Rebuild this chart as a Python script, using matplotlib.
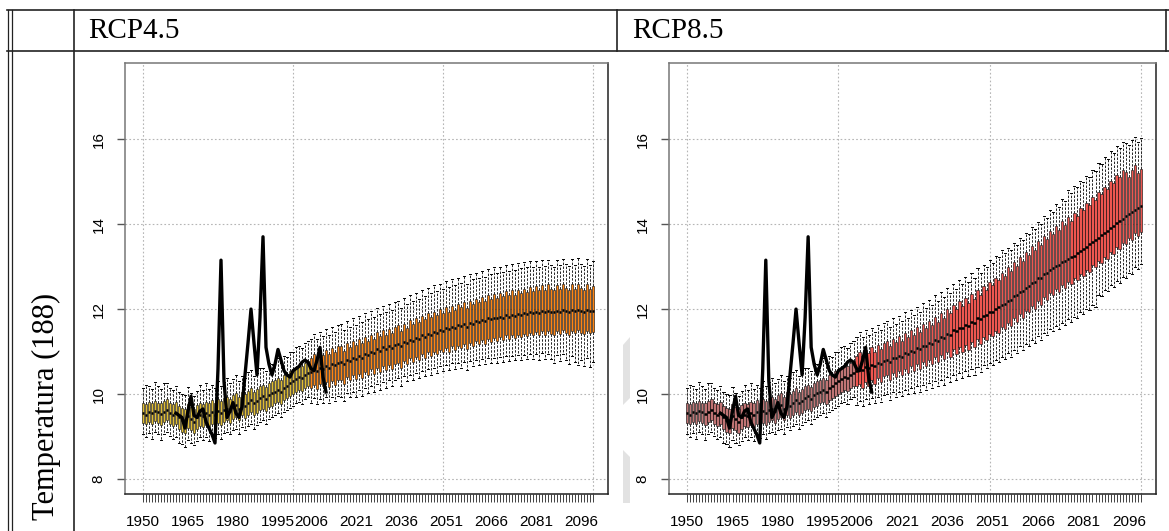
import matplotlib
matplotlib.use('Agg')
import matplotlib.pyplot as plt
from matplotlib.lines import Line2D
from matplotlib.patches import Polygon

# --- years / labels ---
years_hist = list(range(1950, 2006))
years_fut = list(range(2006, 2101))
label_years = [1950, 1965, 1980, 1995, 2006, 2021, 2036, 2051, 2066, 2081, 2096]
panel_titles = ['RCP4.5', 'RCP8.5']
row_label = 'Temperatura (188)'

# --- historical ensemble (same for both scenarios), 1950-2005 ---
hist_med = [9.55, 9.52, 9.58, 9.55, 9.60, 9.57, 9.53, 9.58, 9.62, 9.56,
            9.50, 9.55, 9.45, 9.40, 9.38, 9.48, 9.42, 9.35, 9.45, 9.52,
            9.48, 9.55, 9.50, 9.58, 9.52, 9.60, 9.55, 9.62, 9.66, 9.60,
            9.70, 9.74, 9.66, 9.78, 9.72, 9.80, 9.86, 9.78, 9.84, 9.90,
            9.95, 9.88, 9.98, 10.02, 10.06, 10.10, 10.05, 10.15, 10.20, 10.25,
            10.30, 10.35, 10.40, 10.38, 10.45, 10.50]
hist_q1 = [9.32, 9.30, 9.34, 9.30, 9.36, 9.33, 9.28, 9.35, 9.38, 9.30,
           9.25, 9.30, 9.18, 9.10, 9.08, 9.20, 9.15, 9.08, 9.18, 9.25,
           9.22, 9.28, 9.22, 9.30, 9.25, 9.33, 9.28, 9.35, 9.40, 9.33,
           9.42, 9.45, 9.38, 9.50, 9.44, 9.52, 9.58, 9.50, 9.56, 9.62,
           9.66, 9.60, 9.70, 9.72, 9.78, 9.82, 9.76, 9.86, 9.90, 9.95,
           10.00, 10.05, 10.10, 10.08, 10.15, 10.20]
hist_q3 = [9.78, 9.76, 9.82, 9.80, 9.84, 9.80, 9.78, 9.84, 9.88, 9.80,
           9.76, 9.82, 9.72, 9.68, 9.66, 9.76, 9.70, 9.64, 9.74, 9.80,
           9.76, 9.82, 9.78, 9.86, 9.80, 9.88, 9.84, 9.90, 9.94, 9.88,
           9.98, 10.02, 9.94, 10.06, 10.00, 10.08, 10.14, 10.06, 10.12, 10.18,
           10.22, 10.16, 10.26, 10.30, 10.34, 10.38, 10.34, 10.44, 10.48, 10.54,
           10.58, 10.62, 10.68, 10.66, 10.72, 10.78]
hist_lo = [9.05, 9.00, 9.08, 8.95, 9.10, 9.05, 8.92, 9.06, 9.10, 9.02,
           8.95, 9.00, 8.84, 8.82, 8.76, 8.92, 8.86, 8.80, 8.90, 8.98,
           8.92, 9.00, 8.90, 9.02, 8.96, 9.05, 8.94, 9.08, 9.12, 9.05,
           9.15, 9.18, 9.06, 9.22, 9.16, 9.25, 9.30, 9.18, 9.28, 9.35,
           9.40, 9.30, 9.42, 9.45, 9.50, 9.55, 9.45, 9.58, 9.62, 9.68,
           9.72, 9.78, 9.82, 9.76, 9.88, 9.92]
hist_hi = [10.15, 10.22, 10.20, 10.12, 10.28, 10.18, 10.12, 10.26, 10.25, 10.15,
           10.10, 10.18, 10.05, 10.00, 9.98, 10.16, 10.02, 9.96, 10.08, 10.22,
           10.10, 10.25, 10.12, 10.22, 10.15, 10.30, 10.18, 10.28, 10.38, 10.25,
           10.35, 10.46, 10.30, 10.42, 10.38, 10.52, 10.56, 10.42, 10.50, 10.62,
           10.62, 10.55, 10.72, 10.70, 10.78, 10.86, 10.72, 10.90, 10.88, 10.98,
           11.00, 11.10, 11.14, 11.08, 11.20, 11.26]

# --- RCP4.5 ensemble, 2006-2100 ---
rcp45_med = [10.53, 10.58, 10.55, 10.62, 10.60, 10.66, 10.62, 10.70, 10.68, 10.72,
             10.75, 10.70, 10.80, 10.78, 10.85, 10.82, 10.90, 10.86, 10.95, 10.92,
             11.00, 10.96, 11.05, 11.02, 11.10, 11.06, 11.12, 11.08, 11.15, 11.18,
             11.12, 11.22, 11.20, 11.28, 11.25, 11.32, 11.30, 11.38, 11.35, 11.42,
             11.40, 11.46, 11.44, 11.50, 11.48, 11.55, 11.52, 11.58, 11.56, 11.62,
             11.60, 11.65, 11.58, 11.68, 11.66, 11.72, 11.70, 11.75, 11.72, 11.78,
             11.76, 11.80, 11.78, 11.82, 11.80, 11.85, 11.82, 11.86, 11.84, 11.88,
             11.86, 11.90, 11.88, 11.92, 11.90, 11.93, 11.90, 11.95, 11.92, 11.96,
             11.94, 11.92, 11.96, 11.94, 11.98, 11.95, 11.93, 11.97, 11.95, 11.98,
             11.96, 11.94, 11.97, 11.95, 11.96]
rcp45_q1 = [10.15, 10.22, 10.12, 10.24, 10.18, 10.28, 10.16, 10.30, 10.22, 10.32,
            10.34, 10.24, 10.40, 10.32, 10.44, 10.36, 10.48, 10.38, 10.52, 10.44,
            10.58, 10.48, 10.62, 10.52, 10.66, 10.56, 10.68, 10.58, 10.70, 10.74,
            10.62, 10.78, 10.70, 10.84, 10.76, 10.88, 10.80, 10.94, 10.86, 10.98,
            10.90, 11.00, 10.94, 11.04, 10.98, 11.08, 11.00, 11.12, 11.04, 11.14,
            11.08, 11.18, 11.06, 11.20, 11.12, 11.24, 11.18, 11.28, 11.18, 11.30,
            11.22, 11.32, 11.26, 11.34, 11.28, 11.38, 11.30, 11.38, 11.32, 11.40,
            11.34, 11.42, 11.36, 11.44, 11.38, 11.46, 11.38, 11.48, 11.40, 11.48,
            11.42, 11.38, 11.48, 11.42, 11.50, 11.43, 11.40, 11.49, 11.43, 11.50,
            11.44, 11.42, 11.49, 11.43, 11.46]
rcp45_q3 = [10.85, 10.94, 10.86, 10.98, 10.92, 11.04, 10.94, 11.08, 11.00, 11.12,
            11.12, 11.02, 11.20, 11.10, 11.24, 11.16, 11.30, 11.20, 11.34, 11.26,
            11.40, 11.30, 11.46, 11.36, 11.50, 11.40, 11.54, 11.43, 11.58, 11.62,
            11.48, 11.66, 11.56, 11.74, 11.64, 11.80, 11.70, 11.84, 11.76, 11.90,
            11.82, 11.94, 11.86, 12.00, 11.90, 12.04, 11.94, 12.08, 11.98, 12.12,
            12.04, 12.16, 12.02, 12.20, 12.12, 12.24, 12.16, 12.28, 12.18, 12.32,
            12.24, 12.36, 12.26, 12.38, 12.30, 12.42, 12.32, 12.44, 12.34, 12.46,
            12.38, 12.48, 12.40, 12.52, 12.43, 12.54, 12.44, 12.56, 12.46, 12.58,
            12.48, 12.44, 12.56, 12.48, 12.58, 12.50, 12.46, 12.58, 12.48, 12.60,
            12.50, 12.46, 12.58, 12.48, 12.54]
rcp45_lo = [9.80, 9.90, 9.76, 9.88, 9.78, 9.92, 9.80, 9.94, 9.84, 9.96,
            9.92, 9.84, 10.02, 9.92, 10.06, 9.94, 10.10, 9.96, 10.14, 10.02,
            10.18, 10.06, 10.24, 10.10, 10.28, 10.14, 10.32, 10.18, 10.34, 10.38,
            10.20, 10.42, 10.30, 10.46, 10.34, 10.50, 10.38, 10.54, 10.42, 10.58,
            10.46, 10.62, 10.50, 10.66, 10.54, 10.68, 10.56, 10.72, 10.60, 10.74,
            10.62, 10.76, 10.56, 10.78, 10.66, 10.80, 10.68, 10.82, 10.70, 10.84,
            10.72, 10.86, 10.74, 10.88, 10.76, 10.90, 10.78, 10.90, 10.80, 10.92,
            10.80, 10.92, 10.82, 10.94, 10.82, 10.94, 10.80, 10.96, 10.82, 10.94,
            10.82, 10.74, 10.92, 10.78, 10.94, 10.80, 10.70, 10.90, 10.76, 10.68,
            10.80, 10.66, 10.86, 10.64, 10.76]
rcp45_hi = [11.30, 11.42, 11.30, 11.46, 11.36, 11.54, 11.40, 11.58, 11.46, 11.62,
            11.64, 11.50, 11.72, 11.58, 11.78, 11.62, 11.84, 11.70, 11.90, 11.76,
            11.96, 11.82, 12.02, 11.88, 12.08, 11.94, 12.12, 11.98, 12.16, 12.20,
            12.02, 12.26, 12.12, 12.32, 12.18, 12.38, 12.24, 12.44, 12.30, 12.50,
            12.38, 12.56, 12.42, 12.60, 12.48, 12.66, 12.52, 12.70, 12.56, 12.74,
            12.62, 12.78, 12.60, 12.82, 12.70, 12.86, 12.74, 12.90, 12.76, 12.94,
            12.82, 12.98, 12.84, 13.00, 12.88, 13.04, 12.90, 13.06, 12.92, 13.08,
            12.96, 13.10, 12.98, 13.12, 13.00, 13.14, 13.00, 13.16, 13.02, 13.16,
            13.04, 13.00, 13.16, 13.04, 13.18, 13.06, 13.02, 13.18, 13.04, 13.20,
            13.06, 13.02, 13.18, 13.04, 13.12]

# --- RCP8.5 ensemble, 2006-2100 ---
rcp85_med = [10.55, 10.60, 10.56, 10.64, 10.62, 10.68, 10.66, 10.74, 10.70, 10.78,
             10.80, 10.76, 10.86, 10.84, 10.90, 10.88, 10.96, 10.94, 11.02, 11.00,
             11.08, 11.05, 11.14, 11.12, 11.20, 11.18, 11.28, 11.25, 11.34, 11.32,
             11.42, 11.40, 11.50, 11.48, 11.56, 11.55, 11.62, 11.60, 11.70, 11.68,
             11.78, 11.76, 11.84, 11.86, 11.92, 11.94, 12.00, 12.04, 12.10, 12.12,
             12.20, 12.22, 12.30, 12.32, 12.40, 12.42, 12.50, 12.54, 12.62, 12.64,
             12.72, 12.74, 12.82, 12.86, 12.92, 12.96, 13.02, 13.04, 13.10, 13.14,
             13.18, 13.22, 13.26, 13.32, 13.36, 13.42, 13.46, 13.52, 13.58, 13.62,
             13.68, 13.74, 13.78, 13.84, 13.90, 13.96, 14.02, 14.08, 14.12, 14.18,
             14.24, 14.28, 14.34, 14.38, 14.42]
rcp85_q1 = [10.18, 10.24, 10.14, 10.28, 10.20, 10.32, 10.24, 10.38, 10.28, 10.42,
            10.44, 10.32, 10.50, 10.40, 10.54, 10.44, 10.60, 10.50, 10.66, 10.54,
            10.70, 10.58, 10.76, 10.66, 10.80, 10.70, 10.88, 10.76, 10.92, 10.82,
            11.00, 10.88, 11.06, 10.95, 11.10, 11.00, 11.16, 11.04, 11.22, 11.10,
            11.30, 11.18, 11.34, 11.28, 11.42, 11.36, 11.48, 11.44, 11.58, 11.52,
            11.68, 11.60, 11.78, 11.70, 11.88, 11.80, 11.96, 11.92, 12.08, 12.00,
            12.18, 12.10, 12.28, 12.22, 12.38, 12.32, 12.48, 12.40, 12.56, 12.50,
            12.64, 12.58, 12.72, 12.68, 12.82, 12.78, 12.92, 12.88, 13.04, 12.98,
            13.12, 13.08, 13.22, 13.18, 13.34, 13.30, 13.46, 13.42, 13.56, 13.52,
            13.68, 13.62, 13.78, 13.72, 13.82]
rcp85_q3 = [10.90, 10.98, 10.90, 11.04, 10.96, 11.10, 11.00, 11.16, 11.06, 11.20,
            11.24, 11.12, 11.30, 11.22, 11.36, 11.26, 11.44, 11.34, 11.50, 11.40,
            11.58, 11.46, 11.66, 11.56, 11.72, 11.62, 11.82, 11.70, 11.90, 11.80,
            12.00, 11.90, 12.10, 12.00, 12.18, 12.08, 12.26, 12.14, 12.36, 12.24,
            12.46, 12.34, 12.54, 12.46, 12.64, 12.56, 12.74, 12.68, 12.86, 12.78,
            12.98, 12.90, 13.10, 13.02, 13.22, 13.14, 13.34, 13.28, 13.48, 13.40,
            13.60, 13.50, 13.72, 13.64, 13.84, 13.76, 13.96, 13.86, 14.06, 13.98,
            14.16, 14.08, 14.26, 14.20, 14.38, 14.32, 14.50, 14.44, 14.64, 14.56,
            14.76, 14.70, 14.88, 14.82, 15.02, 14.96, 15.16, 15.10, 15.28, 15.22,
            15.10, 15.28, 15.40, 15.20, 15.30]
rcp85_lo = [9.75, 9.84, 9.72, 9.88, 9.76, 9.90, 9.80, 9.94, 9.82, 9.98,
            10.00, 9.86, 10.04, 9.94, 10.06, 9.96, 10.10, 10.00, 10.14, 10.02,
            10.18, 10.06, 10.22, 10.10, 10.26, 10.14, 10.30, 10.18, 10.34, 10.22,
            10.40, 10.28, 10.46, 10.32, 10.50, 10.38, 10.54, 10.42, 10.60, 10.46,
            10.64, 10.52, 10.68, 10.62, 10.74, 10.68, 10.80, 10.76, 10.88, 10.82,
            10.96, 10.88, 11.04, 10.96, 11.12, 11.04, 11.18, 11.14, 11.28, 11.20,
            11.36, 11.28, 11.44, 11.40, 11.52, 11.48, 11.60, 11.54, 11.68, 11.62,
            11.76, 11.70, 11.82, 11.80, 11.92, 11.88, 12.00, 11.98, 12.10, 12.06,
            12.32, 12.30, 12.46, 12.42, 12.56, 12.52, 12.66, 12.62, 12.76, 12.72,
            12.86, 12.82, 12.98, 12.94, 13.06]
rcp85_hi = [11.35, 11.46, 11.34, 11.50, 11.40, 11.56, 11.46, 11.62, 11.50, 11.68,
            11.72, 11.58, 11.78, 11.66, 11.84, 11.72, 11.92, 11.80, 11.98, 11.86,
            12.06, 11.92, 12.14, 12.02, 12.22, 12.10, 12.32, 12.18, 12.40, 12.28,
            12.50, 12.38, 12.60, 12.48, 12.68, 12.58, 12.76, 12.64, 12.86, 12.74,
            12.96, 12.84, 13.04, 12.98, 13.16, 13.08, 13.26, 13.22, 13.40, 13.32,
            13.44, 13.38, 13.56, 13.50, 13.68, 13.62, 13.80, 13.76, 13.94, 13.88,
            14.04, 14.00, 14.18, 14.14, 14.32, 14.28, 14.46, 14.40, 14.58, 14.54,
            14.80, 14.74, 14.90, 14.86, 15.02, 14.98, 15.14, 15.10, 15.28, 15.24,
            15.44, 15.42, 15.58, 15.54, 15.72, 15.68, 15.84, 15.80, 15.94, 15.90,
            15.86, 15.98, 16.04, 15.92, 16.02]

# --- observed station series ---
obs_years = list(range(1961, 2012))
obs_vals = [9.55, 9.50, 9.45, 9.20, 9.60, 9.95, 9.50, 9.45, 9.60, 9.65,
            9.35, 9.20, 9.05, 8.85, 10.60, 13.15, 10.30, 9.45, 9.60, 9.80,
            9.55, 9.45, 9.70, 10.45, 11.20, 12.00, 11.20, 10.45, 11.80, 13.70,
            11.10, 10.70, 10.45, 10.70, 11.05, 10.80, 10.55, 10.45, 10.40, 10.55,
            10.60, 10.65, 10.75, 10.80, 10.75, 10.60, 10.55, 10.80, 11.10, 10.40,
            10.05]

hist_col = ['#E0BC30', '#C07474']
fut_col = ['#FF8410', '#EE5650']
futures = [(rcp45_med, rcp45_q1, rcp45_q3, rcp45_lo, rcp45_hi),
           (rcp85_med, rcp85_q1, rcp85_q3, rcp85_lo, rcp85_hi)]

W, H = 1169, 531
fig = plt.figure(figsize=(W / 100, H / 100), dpi=100)


def fx(x):
    return x / W


def fy(y):
    return 1 - y / H


def stats(med, q1, q3, lo, hi):
    return [dict(med=m, q1=a, q3=b, whislo=l, whishi=h, fliers=[])
            for m, a, b, l, h in zip(med, q1, q3, lo, hi)]


def boxes(ax, st, pos, color):
    ax.bxp(st, positions=pos, widths=0.8, patch_artist=True, manage_ticks=False,
           capwidths=0.7,
           boxprops=dict(facecolor=color, edgecolor='black', linewidth=0.4),
           medianprops=dict(color='black', linewidth=1.8, solid_capstyle='butt'),
           whiskerprops=dict(color='#222222', linewidth=0.7, linestyle=(0, (2.5, 1.5))),
           capprops=dict(color='black', linewidth=0.7))


pos_hist = [y - 1950 for y in years_hist]
pos_fut = [y - 1950 for y in years_fut]
all_years = years_hist + years_fut
obs_x = [y - 1950 for y in obs_years]

axes_px = [(125, 608), (669, 1156)]
for i, (l, r) in enumerate(axes_px):
    ax = fig.add_axes([fx(l), fy(494), fx(r - l), fy(62.5) - fy(494)])
    ax.set_axisbelow(True)
    for v in [8, 10, 12, 14, 16]:
        ax.axhline(v, color='#b5b5b5', lw=0.8, ls=(0, (1.5, 2)), zorder=0)
    for v in [0, 50, 100, 150]:
        ax.axvline(v, color='#b5b5b5', lw=0.8, ls=(0, (1.5, 2)), zorder=0)
    boxes(ax, stats(hist_med, hist_q1, hist_q3, hist_lo, hist_hi), pos_hist, hist_col[i])
    boxes(ax, stats(*futures[i]), pos_fut, fut_col[i])
    ax.plot(obs_x, obs_vals, color='black', lw=2.4, zorder=5)

    ax.set_xlim(-6, 155)
    ax.set_ylim(7.65, 17.8)
    ax.set_xticks(pos_hist + pos_fut)
    ax.set_xticklabels([str(y) if y in label_years else '' for y in all_years],
                       fontsize=11, family='Liberation Sans')
    ax.set_yticks([8, 10, 12, 14, 16])
    ax.set_yticklabels(['8', '10', '12', '14', '16'], rotation=90, va='center',
                       fontsize=11, family='Liberation Sans')
    ax.tick_params(axis='x', length=6, width=0.6, pad=9, color='#222222')
    ax.tick_params(axis='y', length=6, width=1.0, pad=8, color='#555555')
    for s in ax.spines.values():
        s.set_linewidth(1.1)
        s.set_color('#222222')
    ax.spines['left'].set_color('#777777')
    ax.spines['top'].set_color('#777777')

# --- table frame ---
def hline(y, x0, x1, lw=1.2):
    fig.add_artist(Line2D([fx(x0), fx(x1)], [fy(y), fy(y)], color='#222222', lw=lw))


def vline(x, y0, y1, lw=1.2):
    fig.add_artist(Line2D([fx(x), fx(x)], [fy(y0), fy(y1)], color='#222222', lw=lw))


hline(10, 7, 1169)
hline(51, 7, 1169)
vline(8, 10, 531, 0.9)
vline(12, 10, 531, 0.9)
vline(74, 10, 531)
vline(617, 10, 51)
vline(1166, 10, 51)

fig.text(fx(88), fy(31), panel_titles[0], fontsize=21, family='Liberation Serif',
         ha='left', va='center')
fig.text(fx(632), fy(31), panel_titles[1], fontsize=21, family='Liberation Serif',
         ha='left', va='center')
fig.text(fx(46), fy(406), row_label, fontsize=22, family='Liberation Serif',
         rotation=90, ha='center', va='center')

# faint grey marks between the panels
fig.add_artist(Polygon([(fx(623), fy(345)), (fx(630), fy(337)), (fx(630), fy(398)),
                        (fx(623), fy(405))], closed=True, transform=fig.transFigure,
                       facecolor='#e2e2e2', edgecolor='none'))
fig.add_artist(Polygon([(fx(623), fy(450)), (fx(630), fy(457)), (fx(630), fy(503)),
                        (fx(623), fy(503))], closed=True, transform=fig.transFigure,
                       facecolor='#e2e2e2', edgecolor='none'))

fig.savefig('out.png', dpi=100)
